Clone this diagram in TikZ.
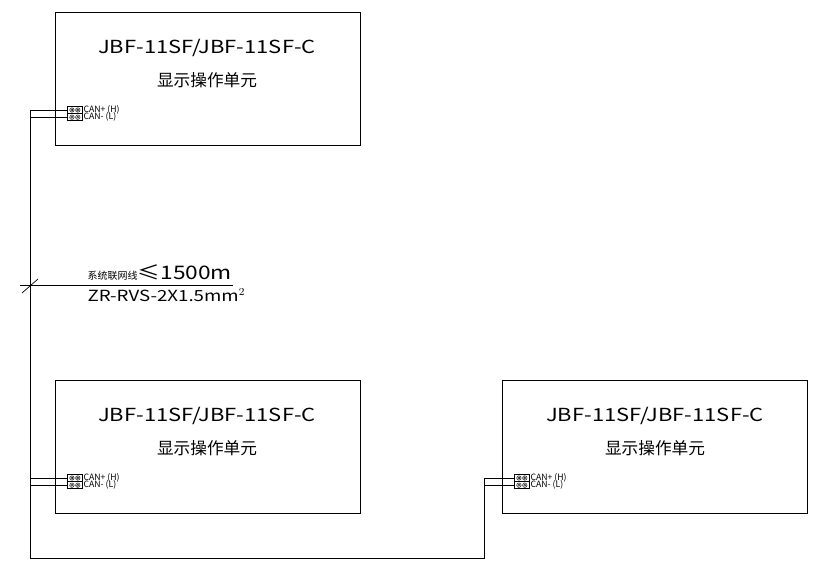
\documentclass[tikz,border=0pt]{standalone}
\usepackage{fontspec}
\setmainfont{Noto Sans CJK SC}
\newfontfamily\wide[FakeStretch=1.22]{Noto Sans CJK SC}
\begin{document}
\begin{tikzpicture}[x=0.75pt,y=-0.75pt,
  unit/.style={draw,line width=0.6pt,minimum width=229pt,minimum height=100pt,anchor=north west,inner sep=0pt},
  term/.style={draw,line width=0.5pt,minimum width=11pt,minimum height=5.4pt,inner sep=0pt},
  wire/.style={line width=0.6pt},
  ttl/.style={font=\wide\fontsize{13.5}{15}\selectfont},
  cjt/.style={font=\fontsize{12.5}{14}\selectfont},
  lab/.style={font=\fontsize{6.5}{7}\selectfont,anchor=west,inner sep=0.5pt}]
\useasboundingbox (0,0) rectangle (831,573);
% boxes
\node[unit] (b1) at (55,12) {};
\node[unit] (b2) at (55,380) {};
\node[unit] (b3) at (502,380) {};
\foreach \b/\cx/\ty in {b1/207/48,b2/207/416,b3/655/416}{
  \node[ttl] (\b t) at (\cx,\ty) {JBF-11SF/JBF-11SF-C};
  \node[cjt] (\b c) at (\cx,\ty+32) {显示操作单元};
}
% terminals
\foreach \b/\x/\y in {b1/75/110,b2/75/478,b3/522/478}{
  \node[term] (\b h) at (\x,\y) {};
  \node[term] (\b l) at (\x,\y+7.2) {};
  \foreach \k in {h,l}{
    \draw[line width=0.3pt] ([xshift=-2.3pt]\b\k.center) circle (1.7pt) circle (0.8pt);
    \draw[line width=0.3pt] ([xshift=2.1pt]\b\k.center) circle (1.7pt) circle (0.8pt);
  }
  \node[lab] (\b hl) at (\b h.east) {CAN+ (H)};
  \node[lab] (\b ll) at (\b l.east) {CAN- (L)};
}
% wiring
\coordinate (v1) at (30,110);
\coordinate (v2) at (30,117.2);
\coordinate (bl) at (30,558);
\coordinate (br) at (484,558);
\coordinate (r1) at (484,478);
\coordinate (r2) at (484,485.2);
\draw[wire] (b1h.west) -- (v1) -- (bl);
\draw[wire] (b1l.west) -- (v2);
\draw[wire] (b2h.west) -| (30,478);
\draw[wire] (b2l.west) -| (30,485.2);
\draw[wire] (bl) -- (br) -- (r1) -- (b3h.west);
\draw[wire] (r2) -- (b3l.west);
% cable label
\coordinate (ca) at (20,285);
\coordinate (cb) at (233,285);
\draw[line width=0.5pt] (ca) -- (cb);
\coordinate (s1) at (22,293);
\coordinate (s2) at (38,279);
\draw[line width=0.5pt] (s1) -- (s2);
\node[anchor=south west,inner sep=1pt] (cl1) at (86,282) {{\fontsize{7.5}{8}\selectfont 系统联网线}{\wide\fontsize{14}{15}\selectfont ≤1500m}};
\node[anchor=north west,inner sep=1pt] (cl2) at (86,287) {\wide\fontsize{11.5}{12}\selectfont ZR-RVS-2X1.5mm$^{\fontsize{6}{6}\selectfont 2}$};
\end{tikzpicture}
\end{document}
